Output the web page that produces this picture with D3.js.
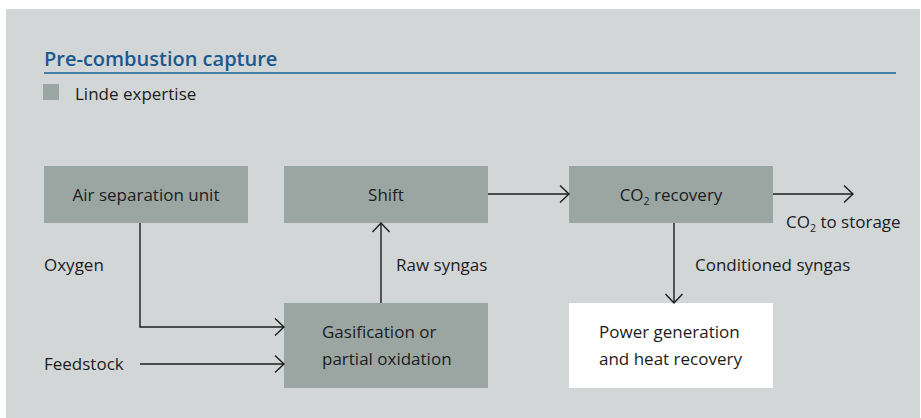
<!DOCTYPE html>
<html><head><meta charset="utf-8">
<script src="https://cdn.jsdelivr.net/npm/d3@7"></script>
<style>
html,body{margin:0;padding:0;background:#fff;}
svg{display:block;font-family:"Open Sans",sans-serif;}
</style></head>
<body>
<svg id="c" width="921" height="418"></svg>
<script>
// ---- data ----
const title = "Pre-combustion capture";
const legendLabel = "Linde expertise";
// process boxes: id, lines of text, grid column/row, kind
const boxIds = ["asu","shift","co2","gasif","power"];
const boxLines = [["Air separation unit"],["Shift"],[["CO","2"," recovery"]],["Gasification or","partial oxidation"],["Power generation","and heat recovery"]];
const boxCols = [0,1,2,1,2];
const boxRows = [0,0,0,1,1];
const boxLinde = [true,true,true,true,false];
const boxAlign = ["middle","middle","middle","start","start"];
const boxIndent = [0,0,0,38,30];
// flows
const flowFrom = ["shift","co2","co2","gasif","asu","feed"];
const flowTo   = ["co2","storage","power","shift","gasif","gasif"];
const flowLabels = [null,[["CO","2"," to storage"]],["Conditioned syngas"],["Raw syngas"],["Oxygen"],["Feedstock"]];

// ---- layout ----
const svg = d3.select("#c");
const colX = d3.scaleOrdinal().domain([0,1,2]).range([44,284,569]);   // box left edges
const rowY = d3.scaleOrdinal().domain([0,1]).range([166,303]);        // box top edges
const boxW = 204, boxH=[57,85];
const ink="#1c1c1c";
const fs=17;

svg.append("rect").attr("x",6).attr("y",9).attr("width",914).attr("height",409).attr("fill","#d2d6d7");

svg.append("text").attr("x",44).attr("y",66).attr("fill","#19598f")
  .attr("font-size",20).attr("font-weight",600).text(title);
svg.append("rect").attr("x",44).attr("y",72).attr("width",852).attr("height",2).attr("fill","#447ea7");
svg.append("rect").attr("x",43).attr("y",84).attr("width",16).attr("height",16).attr("fill","#9ba6a3");
svg.append("text").attr("x",75).attr("y",100).attr("fill",ink).attr("font-size",fs).text(legendLabel);

const boxes = boxIds.map((id,i)=>({id,lines:boxLines[i],x:colX(boxCols[i]),y:rowY(boxRows[i]),w:boxW,h:boxH[boxRows[i]],linde:boxLinde[i],align:boxAlign[i],indent:boxIndent[i]}));
const B = Object.fromEntries(boxes.map(b=>[b.id,b]));

function writeLine(sel, line){
  if (typeof line === "string") { sel.text(line); return; }
  line.forEach((part,k)=>{
    const t = sel.append("tspan").text(part);
    if (k===1){ t.attr("font-size","0.62em").attr("dy",4); }
    else if (k===2){ t.attr("dy",-4); }
  });
}

const g = svg.append("g");
boxes.forEach(b=>{
  g.append("rect").attr("x",b.x).attr("y",b.y).attr("width",b.w).attr("height",b.h)
    .attr("fill",b.linde?"#9ba6a3":"#ffffff");
  const n=b.lines.length;
  b.lines.forEach((ln,j)=>{
    const tx = b.align==="middle" ? b.x+b.w/2 : b.x+b.indent;
    const ty = b.y + b.h/2 + 6 + (j-(n-1)/2)*27;
    const t = g.append("text").attr("x",tx).attr("y",ty).attr("text-anchor",b.align)
      .attr("fill",ink).attr("font-size",fs);
    writeLine(t,ln);
  });
});

// flow geometry
function pts(i){
  const f=flowFrom[i], to=flowTo[i];
  if (f==="shift"&&to==="co2"){ const y=B.shift.y+28; return [[B.shift.x+boxW,y],[B.co2.x,y]]; }
  if (to==="storage"){ const y=B.co2.y+28; return [[B.co2.x+boxW,y],[853,y]]; }
  if (f==="co2"&&to==="power"){ const x=B.co2.x+105; return [[x,B.co2.y+57],[x,B.power.y]]; }
  if (f==="gasif"&&to==="shift"){ const x=B.gasif.x+97; return [[x,B.gasif.y],[x,B.shift.y+57]]; }
  if (f==="asu"){ return [[140,B.asu.y+57],[140,B.gasif.y+24],[B.gasif.x,B.gasif.y+24]]; }
  if (f==="feed"){ return [[140,B.gasif.y+61],[B.gasif.x,B.gasif.y+61]]; }
}
const line = d3.line();
flowFrom.forEach((f,i)=>{
  const p = pts(i);
  g.append("path").attr("d",line(p)).attr("fill","none").attr("stroke",ink).attr("stroke-width",1.4);
  const a=p[p.length-2], b=p[p.length-1];
  const ang=Math.atan2(b[1]-a[1],b[0]-a[0]);
  const L=9, S=8.5;
  const ca=Math.cos(ang), sa=Math.sin(ang);
  const h1=[b[0]-L*ca - S*(-sa), b[1]-L*sa - S*ca];
  const h2=[b[0]-L*ca + S*(-sa), b[1]-L*sa + S*ca];
  g.append("path").attr("d",line([h1,b,h2])).attr("fill","none").attr("stroke",ink).attr("stroke-width",1.4);
});

// flow labels
const labelPos = {storage:[786,228], power:[695,271], shift:[396,271]};
flowLabels.forEach((lab,i)=>{
  if(!lab) return;
  let x,y;
  if (flowFrom[i]==="asu"){ x=44;y=271; }
  else if (flowFrom[i]==="feed"){ x=44;y=370; }
  else { [x,y]=labelPos[flowTo[i]]; }
  const t=g.append("text").attr("x",x).attr("y",y).attr("fill",ink).attr("font-size",fs);
  writeLine(t,lab[0]);
});
</script>
</body></html>
